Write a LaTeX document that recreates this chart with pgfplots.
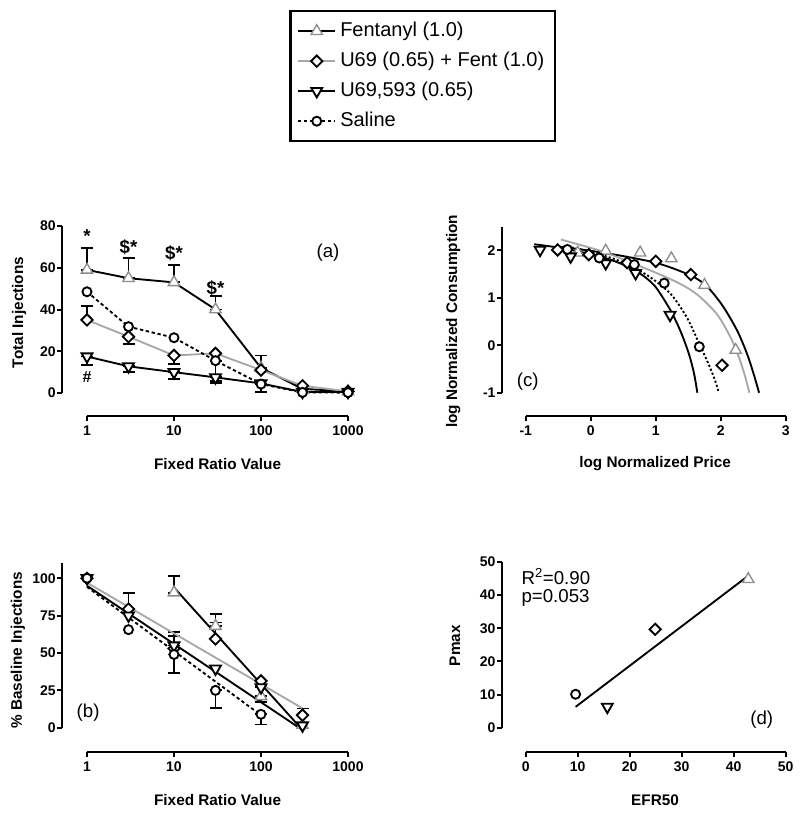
\documentclass[border=0pt]{standalone}
\usepackage{pgfplots}
\pgfplotsset{compat=1.18}
\usepackage{fontspec}
\setmainfont{Liberation Sans}
\newcommand{\tickfont}{\bfseries\fontsize{10.5}{12}\selectfont}
\newcommand{\labfont}{\bfseries\fontsize{11.5}{14}\selectfont}
\newcommand{\annfont}{\fontsize{14}{16}\selectfont}
\definecolor{fgray}{gray}{0.55}
\definecolor{lgray}{gray}{0.66}
\pgfplotsset{
  gp/.style={scale only axis, clip=false, axis lines=left, axis line style={draw=none},
    tick align=outside, major tick length=3.5pt,
    every tick/.style={black, line width=1.5pt},
    tick label style={font=\tickfont}, yticklabel style={inner xsep=1pt},
    /pgf/number format/assume math mode=true,
    label style={font=\labfont}, xminorticks=false, yminorticks=false},
  errb/.style={forget plot, only marks, mark=none,
    error bars/.cd, y explicit, y dir=both,
    error bar style={black, line width=1.4pt, solid},
    error mark options={black, rotate=90, mark size=4.5pt, line width=1.4pt}},
  fent/.style={black, line width=1.4pt, mark=triangle*, mark size=4.9pt,
    mark options={draw=fgray, fill=white, line width=1pt, solid}},
  combo/.style={lgray, line width=1.4pt, mark=square*, mark size=3pt,
    mark options={draw=black, fill=white, rotate=45, line width=1.4pt, solid}},
  u69/.style={black, line width=1.4pt, mark=triangle*, mark size=4.7pt,
    mark options={draw=black, fill=white, rotate=180, line width=1.4pt, solid}},
  sal/.style={black, line width=1.4pt, dash pattern=on 2.5pt off 2pt, mark=*, mark size=3.4pt,
    mark options={draw=black, fill=white, line width=1.4pt, solid}},
}
\begin{document}
\begin{tikzpicture}
\path (0pt,0pt) rectangle (600pt,-611.25pt);
% ---------------- (a)
\begin{axis}[gp, at={(46.5pt,-312pt)}, anchor=south west, width=214.5pt, height=142.5pt,
  xmode=log, xmin=0.516, xmax=1000, ymin=-11, ymax=80,
  xtick={1,10,100,1000}, xticklabels={1,10,100,1000}, ytick={0,20,40,60,80},
  ylabel={Total Injections}, xlabel={Fixed Ratio Value},
  ylabel style={at={(axis description cs:-0.150,0.545)}, anchor=center},
  xlabel style={at={(axis description cs:0.544,-0.253)}, anchor=center},
  legend image code/.code={\draw[mark repeat=2, mark phase=2] plot coordinates {(0cm,0cm) (0.49cm,0cm) (0.98cm,0cm)};},
  legend cell align=left,
  legend style={at={(axis description cs:0.795,2.137)}, anchor=north west, draw=black, line width=1.8pt,
    font=\fontsize{15}{17}\selectfont, inner xsep=5pt, inner ysep=5pt, row sep=2.5pt,
    nodes={inner sep=3pt, text height=11pt, text depth=3pt}}]
\draw[line width=1.7pt] (axis cs:1,-11) -- (axis cs:1000,-11);
\draw[line width=1.7pt] (axis cs:0.516,0) -- (axis cs:0.516,80);
\addplot[errb] table[x=x, y=y, y error plus=ep, y error minus=em] {
x y ep em
1 59 10.5 0
3 55 9.5 0
10 53 8.5 0
30 40 6.3 0
100 12 6 0
1 35 6.7 0
3 27 0 3.6
10 18 0 4
30 15.5 0 9.7
100 4.3 0 3.6
1 17.5 0 4.1
3 12.8 0 2.6
10 10 0 3.3
30 7.5 0 2.5
};
\addplot[fent] coordinates {(1,59) (3,55) (10,53) (30,40) (100,12) (300,2) (1000,0.8)};
\addplot[combo] coordinates {(1,35) (3,27) (10,18) (30,19) (100,11) (300,3.5) (1000,0.8)};
\addplot[u69] coordinates {(1,17.5) (3,12.8) (10,10) (30,7.5) (100,4.6) (300,0.5) (1000,0.5)};
\addplot[sal] coordinates {(1,48.5) (3,31.8) (10,26.5) (30,15.5) (100,4.3) (300,0.3) (1000,0.2)};
\legend{Fentanyl (1.0), U69 (0.65) + Fent (1.0), {U69,593 (0.65)}, Saline}
\node[font=\bfseries\annfont] at (axis cs:1,75) {*};
\node[font=\bfseries\annfont] at (axis cs:3,70) {\$*};
\node[font=\bfseries\annfont] at (axis cs:10,67) {\$*};
\node[font=\bfseries\annfont] at (axis cs:30,50) {\$*};
\node[font=\bfseries\fontsize{12}{14}\selectfont] at (axis cs:1,7.5) {\#};
\node[font=\annfont] at (axis cs:590,67) {(a)};
\end{axis}
% ---------------- (b)
\begin{axis}[gp, at={(46.5pt,-564.2pt)}, anchor=south west, width=214.5pt, height=141.75pt,
  xmode=log, xmin=0.516, xmax=1000, ymin=-16.4, ymax=110,
  xtick={1,10,100,1000}, xticklabels={1,10,100,1000}, ytick={0,25,50,75,100},
  ylabel={\% Baseline Injections}, xlabel={Fixed Ratio Value},
  ylabel style={at={(axis description cs:-0.154,0.54)}, anchor=center},
  xlabel style={at={(axis description cs:0.544,-0.254)}, anchor=center}]
\draw[line width=1.7pt] (axis cs:1,-16.4) -- (axis cs:1000,-16.4);
\draw[line width=1.7pt] (axis cs:0.516,0) -- (axis cs:0.516,110);
\addplot[errb] table[x=x, y=y, y error plus=ep, y error minus=em] {
x y ep em
10 49 0 12.2
30 25 0 11.7
100 9 0 6.8
10 55 9 0
100 27 0 7.5
3 79.4 10.6 0
10 53 8.6 0
30 59.4 11 0
300 8.4 4.5 0
10 90.4 11 0
30 68 8 0
100 21 0 3.7
};
\addplot[fent, only marks] coordinates {(10,90.4) (30,68) (100,21) (300,1.8)};
\addplot[combo, only marks] coordinates {(1,100) (3,79.4) (10,53) (30,59.4) (100,31.3) (300,8.4)};
\addplot[u69, only marks] coordinates {(1,100) (3,75) (10,55) (30,39.5) (100,27) (300,1.5)};
\addplot[sal, only marks] coordinates {(1,100) (3,65.6) (10,49) (30,25) (100,9)};
\addplot[fent, mark=none] coordinates {(10,93.8) (300,-1.5)};
\addplot[combo, mark=none] coordinates {(1,97) (300,13)};
\addplot[u69, mark=none] coordinates {(1,95) (300,-1.5)};
\addplot[sal, mark=none] coordinates {(1,94.2) (100,8.4)};
\node[font=\annfont] at (axis cs:1.03,10) {(b)};
\end{axis}
% ---------------- (c)
\begin{axis}[gp, at={(376.3pt,-312pt)}, anchor=south west, width=213pt, height=142pt,
  xmin=-1.37, xmax=3, ymin=-1.49, ymax=2.5,
  xtick={-1,0,1,2,3}, xticklabels={-1,0,1,2,3}, ytick={-1,0,1,2}, yticklabels={-1,0,1,2},
  ylabel={log Normalized Consumption}, xlabel={log Normalized Price},
  ylabel style={at={(axis description cs:-0.171,0.50)}, anchor=center},
  xlabel style={at={(axis description cs:0.540,-0.25)}, anchor=center}]
\draw[line width=1.7pt] (axis cs:-1,-1.49) -- (axis cs:3,-1.49);
\draw[line width=1.7pt] (axis cs:-1.37,-1) -- (axis cs:-1.37,2.5);
\addplot[fent, only marks] coordinates {(-0.2,1.95) (0.23,1.99) (0.76,1.95) (1.24,1.83) (1.75,1.27) (2.23,-0.1)};
\addplot[combo, only marks] coordinates {(-0.51,2.01) (-0.03,1.91) (0.56,1.74) (1.0,1.77) (1.54,1.49) (2.02,-0.42)};
\addplot[u69, only marks] coordinates {(-0.78,2.01) (-0.31,1.87) (0.23,1.73) (0.69,1.52) (1.22,0.64)};
\addplot[sal, only marks] coordinates {(-0.36,2.02) (0.13,1.84) (0.67,1.70) (1.13,1.31) (1.67,-0.03)};
\addplot[fent, mark=none, smooth, tension=0.5] coordinates {(-0.5,2.08) (-0.2,2.03) (0.15,1.96) (0.5,1.88) (0.8,1.80) (1.0,1.74) (1.25,1.63) (1.54,1.47) (1.7,1.34) (1.85,1.15) (2.05,0.79) (2.26,0.29) (2.41,-0.2) (2.51,-0.62) (2.59,-1.0)};
\addplot[combo, mark=none, smooth, tension=0.5] coordinates {(-0.46,2.23) (-0.2,2.13) (0.15,1.99) (0.5,1.81) (0.77,1.66) (1.0,1.53) (1.28,1.36) (1.5,1.20) (1.69,1.01) (1.95,0.64) (2.15,0.17) (2.28,-0.25) (2.38,-0.68) (2.44,-1.0)};
\addplot[u69, mark=none, smooth, tension=0.5] coordinates {(-0.87,2.13) (-0.5,2.06) (-0.2,1.98) (0.15,1.87) (0.5,1.70) (0.77,1.50) (0.92,1.34) (1.03,1.17) (1.23,0.73) (1.38,0.30) (1.51,-0.18) (1.59,-0.60) (1.64,-1.0)};
\addplot[sal, mark=none, smooth, tension=0.5, dash pattern=on 1.6pt off 1.6pt] coordinates {(-0.36,2.08) (0,1.97) (0.4,1.80) (0.7,1.61) (0.92,1.43) (1.13,1.21) (1.28,1.00) (1.49,0.56) (1.67,0.03) (1.82,-0.42) (1.92,-0.77) (1.97,-1.0)};
\node[font=\annfont] at (axis cs:-0.97,-0.77) {(c)};
\end{axis}
% ---------------- (d)
\begin{axis}[gp, at={(376.3pt,-564.2pt)}, anchor=south west, width=213pt, height=142.7pt,
  xmin=-4.6, xmax=50, ymin=-7.4, ymax=50,
  xtick={0,10,20,30,40,50}, ytick={0,10,20,30,40,50},
  ylabel={Pmax}, xlabel={EFR50},
  ylabel style={at={(axis description cs:-0.165,0.56)}, anchor=center},
  xlabel style={at={(axis description cs:0.540,-0.253)}, anchor=center}]
\draw[line width=1.7pt] (axis cs:0,-7.4) -- (axis cs:50,-7.4);
\draw[line width=1.7pt] (axis cs:-4.6,0) -- (axis cs:-4.6,50);
\addplot[black, line width=1.4pt] coordinates {(9.6,6.3) (42.5,45.5)};
\addplot[sal, only marks] coordinates {(9.6,10.1)};
\addplot[u69, only marks] coordinates {(15.7,6.3)};
\addplot[combo, only marks] coordinates {(24.9,29.7)};
\addplot[fent, only marks] coordinates {(42.8,44.8)};
\node[font=\annfont, anchor=west] at (axis cs:-1.7,45.5) {R\textsuperscript{2}=0.90};
\node[font=\annfont, anchor=west] at (axis cs:-1.7,39.3) {p=0.053};
\node[font=\annfont] at (axis cs:45.4,2.3) {(d)};
\end{axis}
\end{tikzpicture}
\end{document}
